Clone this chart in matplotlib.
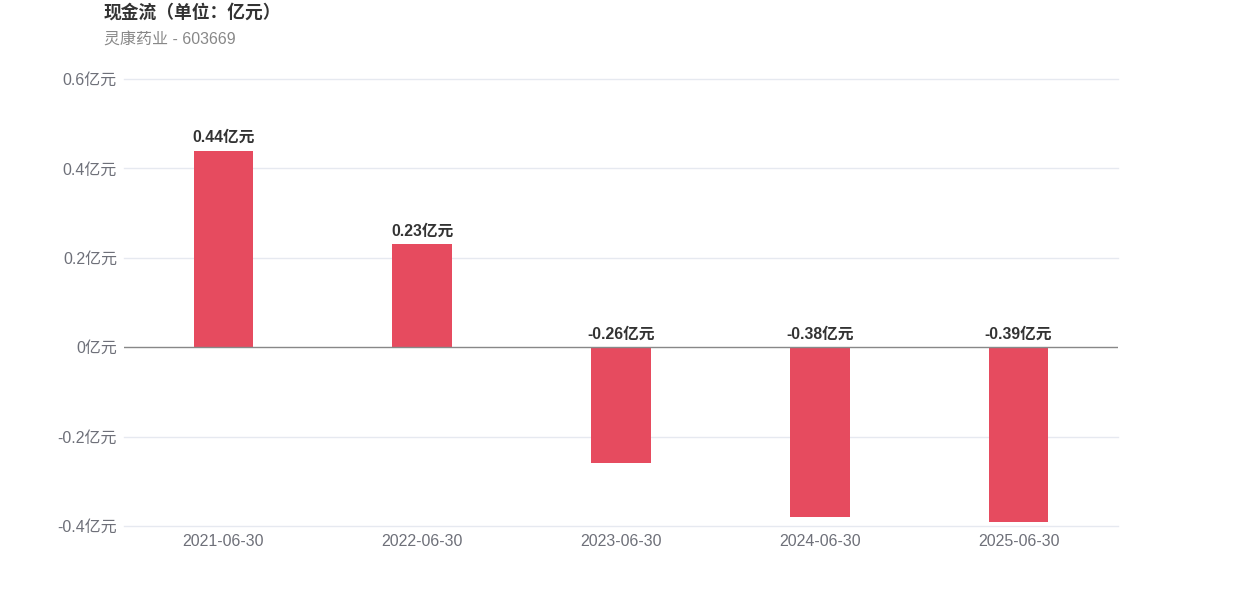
import matplotlib
matplotlib.use("Agg")
import matplotlib.pyplot as plt

plt.rcParams['font.family'] = ['Liberation Sans', 'Noto Sans CJK SC', 'DejaVu Sans']

dates = ["2021-06-30", "2022-06-30", "2023-06-30", "2024-06-30", "2025-06-30"]
values = [0.44, 0.23, -0.26, -0.38, -0.39]
yticks = [-0.4, -0.2, 0, 0.2, 0.4, 0.6]
ytick_labels = ["-0.4亿元", "-0.2亿元", "0亿元", "0.2亿元", "0.4亿元", "0.6亿元"]
title = "现金流（单位：亿元）"
subtitle = "灵康药业 - 603669"

fig = plt.figure(figsize=(12.42, 5.96), dpi=100)
ax = fig.add_axes([124/1242, 70/596, 994/1242, 447/596])

x = list(range(len(dates)))
ax.bar(x, values, width=0.3, color="#E64B5F", zorder=3)

ax.set_xlim(-0.5, len(dates) - 0.5)
ax.set_ylim(-0.4, 0.6)
ax.set_yticks(yticks)
ax.set_yticklabels(ytick_labels)
ax.set_xticks(x)
ax.set_xticklabels(dates)
ax.tick_params(axis='both', length=0, labelsize=11.5, labelcolor="#6E7079")
ax.tick_params(axis='y', pad=5)
ax.tick_params(axis='x', pad=5.5)
for t in yticks:
    if t != 0:
        ax.axhline(t, color="#E6E9F0", linewidth=1, zorder=0, clip_on=False)
ax.axhline(0, color="#888888", linewidth=1, zorder=4)
for s in ax.spines.values():
    s.set_visible(False)

for xi, v in zip(x, values):
    y = v if v > 0 else 0
    ax.annotate(f"{v:.2f}亿元", (xi, y), xytext=(0, 4), textcoords="offset points",
                ha="center", va="bottom", fontsize=11.3, fontweight="bold", color="#333333")

fig.text(104/1242, 1 - 13/596, title, fontsize=12.8, fontweight="bold", color="#333333",
         ha="left", va="center")
fig.text(104/1242, 1 - 39/596, subtitle, fontsize=11.5, color="#888888", ha="left", va="center")

fig.savefig("out.png", dpi=100)
